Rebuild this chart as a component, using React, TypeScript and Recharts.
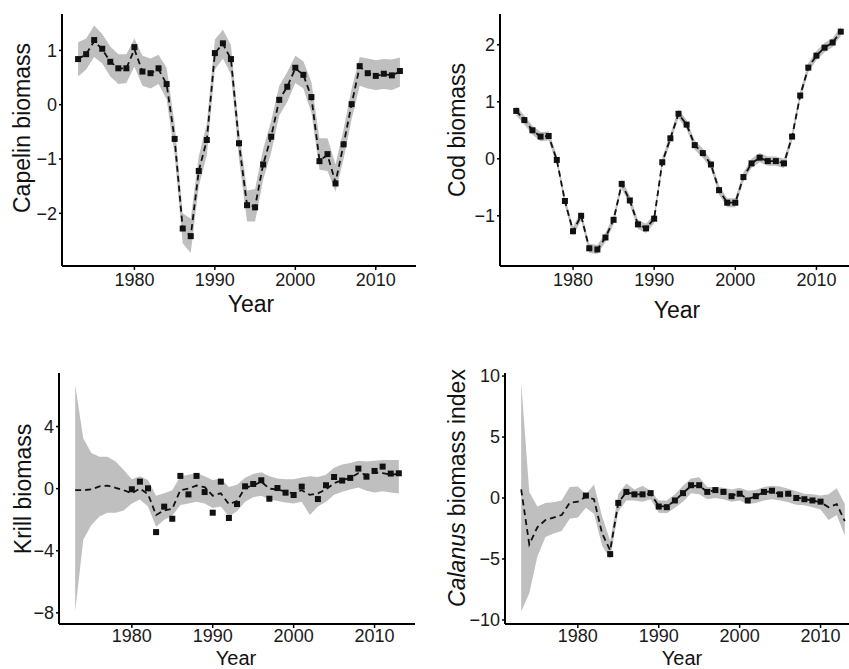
import { ComposedChart, Area, Line, Scatter, XAxis, YAxis, Label } from "recharts";

const years = [
  1973, 1974, 1975, 1976, 1977, 1978, 1979, 1980, 1981, 1982,
  1983, 1984, 1985, 1986, 1987, 1988, 1989, 1990, 1991, 1992,
  1993, 1994, 1995, 1996, 1997, 1998, 1999, 2000, 2001, 2002,
  2003, 2004, 2005, 2006, 2007, 2008, 2009, 2010, 2011, 2012, 2013,
];
const yearTicks = [1980, 1990, 2000, 2010];

// capelin
const capelinObs = [
  0.84, 0.93, 1.19, 1.03, 0.79, 0.67, 0.67, 1.06, 0.61, 0.58,
  0.67, 0.38, -0.63, -2.28, -2.42, -1.22, -0.65, 0.95, 1.13, 0.84,
  -0.71, -1.85, -1.89, -1.1, -0.59, 0.09, 0.33, 0.68, 0.55, 0.14,
  -1.04, -0.91, -1.45, -0.73, 0.01, 0.71, 0.58, 0.53, 0.57, 0.54, 0.62,
];
const capelinFit = [
  0.84, 0.93, 1.17, 1.02, 0.79, 0.67, 0.67, 1.02, 0.61, 0.58,
  0.65, 0.38, -0.63, -2.27, -2.42, -1.22, -0.65, 0.95, 1.12, 0.84,
  -0.71, -1.85, -1.88, -1.1, -0.59, 0.09, 0.33, 0.67, 0.55, 0.14,
  -1.02, -0.93, -1.43, -0.73, 0.01, 0.7, 0.58, 0.53, 0.56, 0.54, 0.61,
];
const capelinHi = [
  1.15, 1.22, 1.46, 1.3, 1.07, 0.93, 0.93, 1.22, 0.9, 0.85,
  0.92, 0.68, -0.35, -2.0, -2.1, -0.95, -0.35, 1.2, 1.38, 1.1,
  -0.45, -1.58, -1.55, -0.82, -0.3, 0.35, 0.6, 0.9, 0.8, 0.42,
  -0.62, -0.62, -1.1, -0.45, 0.3, 0.88, 0.85, 0.82, 0.84, 0.83, 0.87,
];
const capelinLo = [
  0.52, 0.65, 0.88, 0.76, 0.52, 0.38, 0.4, 0.7, 0.35, 0.3,
  0.38, 0.1, -0.92, -2.55, -2.73, -1.5, -0.93, 0.65, 0.85, 0.56,
  -1.0, -2.15, -2.15, -1.38, -0.88, -0.2, 0.05, 0.4, 0.3, -0.15,
  -1.2, -1.22, -1.6, -1.0, -0.27, 0.35, 0.3, 0.27, 0.29, 0.27, 0.33,
];

// cod
const codObs = [
  0.84, 0.68, 0.5, 0.39, 0.4, -0.02, -0.74, -1.27, -1.0, -1.57,
  -1.59, -1.38, -1.07, -0.44, -0.73, -1.15, -1.22, -1.05, -0.06, 0.36,
  0.79, 0.6, 0.24, 0.1, -0.1, -0.55, -0.77, -0.77, -0.32, -0.08,
  0.02, -0.04, -0.04, -0.08, 0.39, 1.11, 1.6, 1.81, 1.95, 2.04, 2.23,
];
const codFit = [
  0.84, 0.68, 0.5, 0.39, 0.4, -0.02, -0.74, -1.27, -1.0, -1.57,
  -1.59, -1.38, -1.07, -0.44, -0.73, -1.15, -1.22, -1.05, -0.06, 0.36,
  0.79, 0.6, 0.24, 0.1, -0.1, -0.55, -0.77, -0.77, -0.32, -0.08,
  0.02, -0.04, -0.04, -0.08, 0.39, 1.11, 1.6, 1.81, 1.95, 2.04, 2.23,
];
const codHi = [
  0.92, 0.76, 0.58, 0.47, 0.48, 0.06, -0.66, -1.19, -0.92, -1.49,
  -1.51, -1.3, -0.99, -0.36, -0.65, -1.07, -1.14, -0.97, 0.02, 0.44,
  0.87, 0.68, 0.32, 0.18, -0.02, -0.47, -0.69, -0.69, -0.24, 0.0,
  0.1, 0.04, 0.04, 0.0, 0.47, 1.19, 1.68, 1.89, 2.03, 2.12, 2.31,
];
const codLo = [
  0.76, 0.6, 0.42, 0.31, 0.32, -0.1, -0.82, -1.35, -1.08, -1.65,
  -1.67, -1.46, -1.15, -0.52, -0.81, -1.23, -1.3, -1.13, -0.14, 0.28,
  0.71, 0.52, 0.16, 0.02, -0.18, -0.63, -0.85, -0.85, -0.4, -0.16,
  -0.06, -0.12, -0.12, -0.16, 0.31, 1.03, 1.52, 1.73, 1.87, 1.96, 2.15,
];

// krill
const krillObs = [
  null, null, null, null, null, null, null, -0.04, 0.45, 0.02,
  -2.8, -1.16, -1.94, 0.82, -0.37, 0.82, -0.22, -1.55, 0.45, -1.89,
  -0.99, 0.15, 0.3, 0.54, -0.65, 0.04, -0.26, -0.41, 0.13, null,
  -0.67, 0.22, 0.75, 0.52, 0.69, 1.29, 0.77, 1.14, 1.42, 0.97, 0.99,
];
const krillFit = [
  -0.1, -0.1, -0.05, 0.15, 0.2, 0.05, -0.1, -0.3, 0.0, -0.35,
  -1.7, -1.4, -1.3, -0.1, 0.0, 0.2, 0.1, -0.45, -0.3, -1.0,
  -0.8, 0.05, 0.2, 0.45, 0.0, -0.05, -0.2, -0.3, -0.1, -0.4,
  -0.3, -0.05, 0.35, 0.55, 0.7, 1.0, 0.9, 1.05, 1.0, 0.9, 0.95,
];
const krillHi = [
  6.7, 3.25, 2.3, 2.05, 2.05, 1.75, 1.2, 0.6, 0.8, 0.55,
  -0.45, -0.3, -0.1, 0.8, 0.9, 1.0, 0.8, 0.55, 0.65, 0.1,
  0.25, 0.7, 0.95, 1.05, 0.8, 0.65, 0.6, 0.6, 0.72, 0.8,
  0.75, 0.9, 1.35, 1.55, 1.65, 1.8, 1.75, 1.8, 1.85, 1.85, 1.85,
];
const krillLo = [
  -7.9, -3.3, -2.35, -1.8, -1.55, -1.55, -1.4, -0.95, -0.7, -1.15,
  -2.45, -2.0, -1.75, -1.05, -0.95, -0.85, -0.95, -1.25, -1.15, -1.8,
  -1.45, -0.85, -0.55, -0.45, -0.7, -0.8, -0.9, -0.95, -0.85, -1.7,
  -1.15, -0.85, -0.4, -0.2, -0.05, 0.08, -0.13, -0.25, -0.17, -0.25, -0.32,
];

// calanus
const calanusObs = [
  null, null, null, null, null, null, null, null, 0.2, null,
  null, -4.6, -0.4, 0.5, 0.3, 0.3, 0.4, -0.7, -0.75, -0.2,
  0.4, 1.05, 1.05, 0.5, 0.65, 0.5, 0.15, 0.35, -0.2, 0.15,
  0.5, 0.6, 0.3, 0.35, 0.0, -0.1, -0.2, -0.3, null, null, null,
];
const calanusFit = [
  0.7, -3.8, -2.4, -1.8, -1.6, -1.4, -0.4, -0.3, 0.1, -0.1,
  -2.9, -4.3, -0.4, 0.5, 0.3, 0.3, 0.35, -0.65, -0.7, -0.2,
  0.4, 1.0, 1.0, 0.5, 0.65, 0.5, 0.2, 0.35, -0.1, 0.15,
  0.5, 0.55, 0.3, 0.3, 0.05, -0.1, -0.2, -0.35, -0.75, -0.5, -1.9,
];
const calanusHi = [
  9.5, 0.5, -0.7, -0.4, -0.35, -0.2, 0.9, 0.95, 0.3, 1.1,
  -1.5, -3.5, 0.3, 1.2, 0.7, 1.0, 0.6, -0.2, -0.2, 0.3,
  1.0, 1.6, 1.7, 0.9, 0.9, 0.85, 0.7, 0.85, 0.6, 0.65,
  0.9, 1.0, 0.95, 0.75, 0.55, 0.35, 0.3, 0.2, 0.3, 0.8, -0.5,
];
const calanusLo = [
  -9.3, -7.8, -4.8, -3.2, -2.9, -2.7, -1.7, -1.6, -0.8, -1.3,
  -3.9, -5.0, -1.1, -0.2, -0.2, -0.3, -0.1, -1.2, -1.25, -0.8,
  -0.3, 0.4, 0.3, -0.1, 0.0, -0.1, -0.3, -0.2, -0.5, -0.4,
  -0.2, -0.1, -0.2, -0.35, -0.55, -0.6, -0.75, -0.95, -1.8, -1.4, -3.1,
];

const FONT = "'Liberation Sans', Arial, Helvetica, sans-serif";
const minus = (v: number) => (v < 0 ? `\u2212${Math.abs(v)}` : `${v}`);

function buildRows(fit: number[], lo: number[], hi: number[], obs: (number | null)[]) {
  return years.map((year, i) => ({ year, fit: fit[i], band: [lo[i], hi[i]], obs: obs[i] }));
}

const Square = (p: any) => {
  if (p.cx == null || p.cy == null || isNaN(p.cy)) return <g />;
  return <rect x={p.cx - 3} y={p.cy - 3} width={6} height={6} fill="#111" />;
};

interface PanelProps {
  rows: ReturnType<typeof buildRows>;
  yDomain: [number, number];
  yTicks: number[];
  yTitle: React.ReactNode;
  left: number;
  top: number;
  width: number;
  height: number;
  marginTop: number;
  marginRight: number;
  yAxisWidth: number;
  xAxisHeight: number;
  xTickMargin: number;
  xTitleSize: number;
  yTitlePos: [number, number];
  xTitlePos: [number, number];
}

function Panel(p: PanelProps) {
  const pts = p.rows.filter((r) => r.obs != null);
  return (
    <div style={{ position: "absolute", left: p.left, top: p.top }}>
      <ComposedChart
        width={p.width}
        height={p.height}
        data={p.rows}
        margin={{ top: p.marginTop, right: p.marginRight, left: 0, bottom: 0 }}
      >
        <XAxis
          type="number"
          dataKey="year"
          domain={[1971, 2015]}
          ticks={yearTicks}
          allowDataOverflow
          height={p.xAxisHeight}
          tickSize={4}
          tickMargin={p.xTickMargin}
          axisLine={{ stroke: "#000", strokeWidth: 2 }}
          tickLine={{ stroke: "#000", strokeWidth: 1.5 }}
          tick={{ fill: "#1a1a1a", fontSize: 18, fontFamily: FONT }}
        >
          <Label
            content={() => (
              <text
                x={p.xTitlePos[0]}
                y={p.xTitlePos[1]}
                textAnchor="middle"
                fontSize={p.xTitleSize}
                fontFamily={FONT}
                fill="#111"
              >
                Year
              </text>
            )}
          />
        </XAxis>
        <YAxis
          type="number"
          domain={p.yDomain}
          ticks={p.yTicks}
          allowDataOverflow
          width={p.yAxisWidth}
          tickSize={3}
          tickMargin={2}
          tickFormatter={minus}
          axisLine={{ stroke: "#000", strokeWidth: 2 }}
          tickLine={{ stroke: "#000", strokeWidth: 1.5 }}
          tick={{ fill: "#1a1a1a", fontSize: 18, fontFamily: FONT }}
        >
          <Label
            content={() => (
              <text
                x={p.yTitlePos[0]}
                y={p.yTitlePos[1]}
                transform={`rotate(-90, ${p.yTitlePos[0]}, ${p.yTitlePos[1]})`}
                textAnchor="middle"
                dominantBaseline="central"
                fontSize={23}
                fontFamily={FONT}
                fill="#111"
              >
                {p.yTitle}
              </text>
            )}
          />
        </YAxis>
        <Area
          type="linear"
          dataKey="band"
          stroke="none"
          fill="#bfbfbf"
          fillOpacity={1}
          isAnimationActive={false}
        />
        <Line
          type="linear"
          dataKey="fit"
          stroke="#111"
          strokeWidth={1.8}
          strokeDasharray="6 4"
          dot={false}
          isAnimationActive={false}
        />
        <Scatter data={pts} dataKey="obs" shape={Square} isAnimationActive={false} />
      </ComposedChart>
    </div>
  );
}

export default function App() {
  return (
    <div
      style={{
        position: "absolute",
        left: 0,
        top: 0,
        width: 849,
        height: 669,
        overflow: "hidden",
        background: "#fff",
      }}
    >
      <Panel
        rows={buildRows(capelinFit, capelinLo, capelinHi, capelinObs)}
        yDomain={[-2.97, 1.67]}
        yTicks={[-2, -1, 0, 1]}
        yTitle="Capelin biomass"
        left={0}
        top={0}
        width={430}
        height={330}
        marginTop={14}
        marginRight={14}
        yAxisWidth={62}
        xAxisHeight={64}
        xTickMargin={3}
        xTitleSize={23}
        yTitlePos={[22, 128]}
        xTitlePos={[251, 312]}
      />
      <Panel
        rows={buildRows(codFit, codLo, codHi, codObs)}
        yDomain={[-1.88, 2.54]}
        yTicks={[-1, 0, 1, 2]}
        yTitle="Cod biomass"
        left={420}
        top={0}
        width={440}
        height={330}
        marginTop={14}
        marginRight={3}
        yAxisWidth={80}
        xAxisHeight={64}
        xTickMargin={3}
        xTitleSize={23}
        yTitlePos={[37, 130]}
        xTitlePos={[257, 318]}
      />
      <Panel
        rows={buildRows(krillFit, krillLo, krillHi, krillObs)}
        yDomain={[-8.72, 7.45]}
        yTicks={[-8, -4, 0, 4]}
        yTitle="Krill biomass"
        left={0}
        top={330}
        width={430}
        height={360}
        marginTop={43}
        marginRight={15}
        yAxisWidth={59}
        xAxisHeight={66}
        xTickMargin={1}
        xTitleSize={20}
        yTitlePos={[23, 159]}
        xTitlePos={[236, 334.5]}
      />
      <Panel
        rows={buildRows(calanusFit, calanusLo, calanusHi, calanusObs)}
        yDomain={[-10.33, 10.25]}
        yTicks={[-10, -5, 0, 5, 10]}
        yTitle={
          <>
            <tspan fontStyle="italic">Calanus</tspan> biomass index
          </>
        }
        left={420}
        top={330}
        width={441}
        height={360}
        marginTop={43}
        marginRight={0}
        yAxisWidth={85}
        xAxisHeight={66}
        xTickMargin={1}
        xTitleSize={20}
        yTitlePos={[37, 158]}
        xTitlePos={[262, 334.5]}
      />
    </div>
  );
}
